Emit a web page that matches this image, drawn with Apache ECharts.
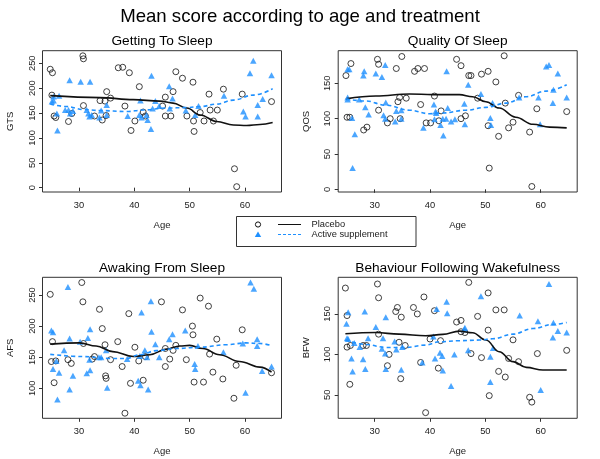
<!DOCTYPE html>
<html><head><meta charset="utf-8">
<script src="https://cdn.jsdelivr.net/npm/echarts@6/dist/echarts.min.js"></script>
<style>html,body{margin:0;padding:0;background:#fff}#c{width:600px;height:459px}</style>
</head><body><div id="c"></div>
<script>
// ---------- DATA ----------
const mainTitle = 'Mean score according to age and treatment';
const panelTitles = ['Getting To Sleep', 'Quality Of Sleep', 'Awaking From Sleep', 'Behaviour Following Wakefulness'];
const yNames = ['GTS', 'QOS', 'AFS', 'BFW'];
const xTicks = [30, 40, 50, 60];
const yTicksGTS = [0, 50, 100, 150, 200, 250];
const yTicksQOS = [0, 50, 100, 150];
const yTicksAFS = [100, 150, 200, 250];
const yTicksBFW = [50, 100, 150];
const legendLabels = ['Placebo', 'Active supplement'];

const gtsPlacebo = [[24.8,238],[25.2,231],[25.1,186],[25.5,144],[25.8,141],[28.1,133],[28.7,149],[30.7,265],[30.8,259],[30.8,165],[32.8,144],[33.8,175],[34.2,136],[34.7,174],[35.0,193],[34.9,145],[35.7,180],[37.1,241],[37.9,242],[38.3,164],[39.1,231],[39.4,115],[40.1,134],[40.9,203],[41.6,152],[42.0,144],[45.6,182],[45.6,144],[45.1,164],[46.6,144],[47.0,193],[47.5,233],[48.7,220],[49.5,144],[50.6,212],[50.7,134],[50.8,113],[51.9,151],[52.6,134],[53.5,188],[53.7,156],[54.3,134],[55.0,156],[56.1,198],[58.1,38],[58.5,2],[59.5,188],[64.8,173]];
const gtsActive = [[25.1,173],[25.4,183],[25.4,175],[26.0,149],[26.1,115],[26.4,185],[27.5,156],[28.1,156],[28.3,216],[28.4,149],[28.9,154],[30.3,213],[31.4,156],[31.7,149],[32.0,213],[31.9,143],[32.3,146],[33.7,141],[34.0,155],[35.0,166],[35.0,146],[38.8,144],[40.9,146],[41.1,175],[41.3,141],[42.2,146],[42.4,136],[43.0,118],[43.1,225],[43.3,159],[43.8,174],[44.5,164],[46.3,204],[46.4,159],[46.9,179],[49.3,155],[51.0,146],[51.6,164],[56.2,185],[59.7,153],[60.1,143],[60.9,230],[61.5,255],[62.3,166],[62.3,143],[63.2,178],[64.8,226]];
const gtsPlaceboFit = [[24.8,185],[33.8,181],[39.8,177],[44.6,174],[47.0,170],[49.5,160],[51.9,146],[54.9,133],[57.9,126],[60.3,125],[62.7,127],[65.0,131]];
const gtsActiveFit = [[24.8,168],[27.8,163],[30.8,157],[33.8,155],[38.6,153],[41.6,156],[45.8,160],[49.5,161],[51.9,163],[54.9,168],[57.9,176],[61.5,186],[65.0,199]];

const qosPlacebo = [[24.8,161],[25.7,178],[25.0,102],[25.5,102],[28.0,84],[28.6,88],[30.5,184],[30.7,177],[30.7,112],[32.3,94],[32.8,100],[33.9,171],[34.2,124],[34.5,130],[34.6,100],[34.9,188],[35.7,129],[37.2,167],[37.8,171],[38.3,120],[39.0,171],[39.3,94],[40.1,94],[40.8,132],[41.6,97],[42.0,111],[44.8,184],[45.6,175],[45.6,100],[46.4,104],[47.0,161],[47.4,161],[48.6,129],[49.3,163],[50.5,167],[50.5,90],[50.7,30],[51.9,152],[52.4,75],[53.4,189],[53.6,122],[54.2,87],[55.0,95],[56.0,133],[58.0,81],[58.4,4],[59.3,114],[64.7,110]];
const qosActive = [[25.1,170],[25.4,170],[25.1,130],[25.1,127],[25.9,101],[26.0,30],[26.4,78],[27.2,127],[28.1,167],[27.95,161],[28.3,116],[28.9,106],[30.2,164],[31.3,159],[31.6,105],[31.9,176],[32.0,123],[31.9,100],[33.7,96],[33.9,111],[34.8,112],[34.8,100],[38.8,87],[40.7,120],[40.8,99],[41.0,110],[41.1,108],[41.9,91],[42.4,76],[42.3,100],[42.9,100],[43.0,167],[43.2,115],[43.8,96],[44.5,99],[46.2,121],[46.3,92],[46.9,148],[49.2,135],[50.9,101],[51.0,91],[51.3,122],[56.1,130],[59.6,130],[59.9,92],[61.0,174],[61.5,176],[62.2,122],[62.3,141],[63.1,164],[64.7,130]];
const qosPlaceboFit = [[24.8,128],[30.2,132],[36.3,135],[40.5,134],[45.3,134],[47.7,131],[50.1,124],[52.5,115],[55.5,102],[58.6,92],[61.6,88],[64.7,87]];
const qosActiveFit = [[24.8,128],[28.4,125],[32.0,119],[36.3,112],[39.9,107],[42.3,108],[46.5,112],[50.1,116],[53.7,122],[57.3,131],[61.0,139],[64.7,148]];

const afsPlacebo = [[24.8,251],[25.2,175],[25.0,143],[25.5,109],[25.8,144],[28.0,146],[28.6,140],[30.5,270],[30.7,239],[30.8,172],[32.4,147],[32.8,151],[33.7,227],[34.2,196],[34.7,170],[34.8,120],[34.9,116],[35.7,146],[37.0,175],[37.8,135],[38.3,60],[39.0,220],[39.3,108],[40.1,166],[40.8,144],[41.6,113],[42.0,151],[44.9,239],[45.6,135],[45.6,164],[46.4,147],[47.0,161],[47.5,169],[48.7,226],[49.4,146],[50.5,200],[50.6,186],[50.8,110],[51.9,245],[52.5,110],[53.4,232],[53.6,155],[54.2,126],[54.9,179],[56.0,115],[58.0,84],[58.4,137],[59.5,194],[64.8,125]];
const afsActive = [[25.0,193],[25.3,190],[25.3,131],[25.9,144],[26.1,82],[26.4,125],[27.3,161],[28.0,263],[28.3,180],[28.3,98],[28.9,120],[30.2,175],[31.4,124],[31.6,181],[31.9,146],[32.0,195],[32.0,129],[33.6,150],[34.0,150],[34.9,161],[35.1,101],[38.7,147],[40.7,112],[41.0,152],[41.1,105],[41.3,222],[41.9,161],[42.3,150],[42.5,98],[43.0,240],[43.1,191],[43.8,171],[44.5,150],[46.3,179],[46.9,187],[49.2,193],[50.9,139],[51.0,131],[51.5,168],[56.1,158],[59.6,172],[60.1,93],[61.0,270],[61.6,260],[62.2,179],[62.2,168],[63.1,128],[64.8,135]];
const afsPlaceboFit = [[24.8,171],[30.1,173],[33.1,168],[36.1,159],[39.8,151],[42.8,154],[45.8,163],[48.2,168],[50.0,169],[52.4,164],[55.4,154],[59.0,143],[62.7,134],[64.8,126]];
const afsActiveFit = [[24.8,154.6],[30.7,151],[35.5,148],[38.6,148],[41.0,154],[44.0,160.5],[47.6,164],[51.8,166],[56.6,170],[60.2,173],[62.7,172],[64.8,168.6]];

const bfwPlacebo = [[24.7,182],[25.0,148],[25.0,109],[25.6,111],[25.5,63],[27.9,111],[28.5,111],[30.5,187],[30.7,170],[30.7,125],[32.6,100],[32.3,86],[33.8,153],[34.1,158],[34.4,115],[34.8,146],[34.7,70],[35.5,111],[37.0,158],[37.7,150],[38.3,90],[38.9,171],[39.2,28],[40.0,119],[40.8,154],[41.5,83],[41.9,117],[44.8,140],[45.6,142],[45.6,128],[46.3,127],[47.0,189],[47.4,101],[48.6,147],[49.3,96],[50.5,176],[50.5,130],[50.7,49],[51.9,155],[52.4,79],[53.4,155],[53.6,72],[54.2,95],[55.0,118],[56.0,91],[58.0,47],[58.4,41],[59.4,101],[64.7,105]];
const bfwActive = [[24.9,138],[25.0,120],[25.2,152],[25.2,119],[25.8,95],[26.0,79],[26.3,114],[27.3,109],[27.9,94],[28.2,153],[28.3,82],[28.8,120],[30.2,134],[31.3,107],[31.5,120],[31.9,101],[32.0,146],[32.0,82],[33.6,116],[33.9,106],[34.8,81],[35.0,109],[38.6,90],[40.6,122],[40.9,95],[41.2,156],[41.8,102],[42.2,98],[42.3,80],[43.0,165],[43.1,151],[43.8,61],[44.4,100],[46.2,131],[46.3,133],[46.9,105],[49.2,172],[50.9,97],[50.9,66],[51.4,108],[56.2,148],[59.5,141],[60.0,56],[61.0,196],[61.5,187],[62.2,121],[62.3,139],[63.1,129],[64.7,127]];
const bfwPlaceboFit = [[24.7,125.5],[30.2,127],[34.4,125],[39.2,123],[42.3,124.7],[45.3,128.8],[47.7,126.7],[50.1,117.7],[52.5,103.3],[55.0,91],[57.4,84],[60.4,80.7],[64.7,80.7]];
const bfwActiveFit = [[24.7,117.7],[28.4,112.3],[32.0,108.6],[35.6,108.6],[39.2,111.5],[41.7,115.6],[45.3,116.9],[48.9,117.7],[51.3,119.3],[55.0,125],[58.6,132],[62.2,137],[64.7,139.5]];

// ---------- LAYOUT / STYLE ----------
const FONT = '"Liberation Sans", Arial, sans-serif';
const BLUE = '#1E90FF';
const TXT = '#1a1a1a';
const grids = [
  {left: 42.5, top: 50.7, width: 239, height: 141.3},
  {left: 338.2, top: 50.7, width: 239, height: 141.3},
  {left: 42.5, top: 277.3, width: 239, height: 141},
  {left: 338.2, top: 277.3, width: 239, height: 141}
];
const yRanges = [[-8.7, 275.3], [-3.8, 196.2], [51.8, 278.4], [21, 195.3]];
const yTicks = [yTicksGTS, yTicksQOS, yTicksAFS, yTicksBFW];
const placebo = [gtsPlacebo, qosPlacebo, afsPlacebo, bfwPlacebo];
const active = [gtsActive, qosActive, afsActive, bfwActive];
const placeboFit = [gtsPlaceboFit, qosPlaceboFit, afsPlaceboFit, bfwPlaceboFit];
const activeFit = [gtsActiveFit, qosActiveFit, afsActiveFit, bfwActiveFit];

const chart = echarts.init(document.getElementById('c'), null, {renderer: 'canvas'});

const xAxis = grids.map((g, i) => ({
  gridIndex: i, type: 'value', min: 23.4, max: 66.6,
  name: 'Age', nameLocation: 'middle', nameGap: 28,
  nameTextStyle: {fontSize: 9.5, color: TXT, fontFamily: FONT},
  axisLine: {show: false}, splitLine: {show: false},
  axisTick: {show: true, length: 3.5, lineStyle: {color: '#333', width: 1}, customValues: xTicks},
  axisLabel: {customValues: xTicks, fontSize: 9.3, margin: 9, color: TXT, fontFamily: FONT}
}));
const yAxis = grids.map((g, i) => ({
  gridIndex: i, type: 'value', min: yRanges[i][0], max: yRanges[i][1],
  name: yNames[i], nameLocation: 'middle', nameGap: 27, nameRotate: 90,
  nameTextStyle: {fontSize: 9.5, color: TXT, fontFamily: FONT},
  axisLine: {show: false}, splitLine: {show: false},
  axisTick: {show: true, length: 3.5, lineStyle: {color: '#333', width: 1}, customValues: yTicks[i]},
  axisLabel: {customValues: yTicks[i], rotate: 90, fontSize: 9.3, margin: 6, color: TXT, fontFamily: FONT}
}));

const series = [];
for (let i = 0; i < 4; i++) {
  series.push({type: 'scatter', xAxisIndex: i, yAxisIndex: i, data: placebo[i], symbol: 'circle', symbolSize: 6,
    itemStyle: {color: 'rgba(255,255,255,0)', borderColor: '#111', borderWidth: 1}, silent: true, z: 2});
  series.push({type: 'scatter', xAxisIndex: i, yAxisIndex: i, data: active[i], symbol: 'triangle', symbolSize: [6.5, 6],
    itemStyle: {color: BLUE}, silent: true, z: 2});
  series.push({type: 'line', xAxisIndex: i, yAxisIndex: i, data: placeboFit[i], smooth: 0.4, smoothMonotone: 'x', showSymbol: false,
    lineStyle: {color: '#111', width: 1.6, type: 'solid'}, silent: true, z: 3});
  series.push({type: 'line', xAxisIndex: i, yAxisIndex: i, data: activeFit[i], smooth: 0.4, smoothMonotone: 'x', showSymbol: false,
    lineStyle: {color: BLUE, width: 1.6, type: [4, 3]}, silent: true, z: 3});
}

const titles = [{text: mainTitle, left: 300, top: 6, textAlign: 'center', padding: 0,
  textStyle: {fontSize: 18.6, fontWeight: 'normal', color: '#000', fontFamily: FONT, lineHeight: 22}}];
grids.forEach((g, i) => titles.push({text: panelTitles[i], left: g.left + g.width / 2, top: (i < 2 ? 41.7 : 268.3) - 8,
  textAlign: 'center', padding: 0,
  textStyle: {fontSize: 13.7, fontWeight: 'normal', color: '#000', fontFamily: FONT, lineHeight: 16}}));

const legendGraphic = [
  {type: 'rect', shape: {x: 236.5, y: 216.5, width: 179.5, height: 30}, style: {fill: 'none', stroke: '#333', lineWidth: 1}},
  {type: 'circle', shape: {cx: 258, cy: 224.5, r: 2.6}, style: {fill: 'none', stroke: '#111', lineWidth: 1}},
  {type: 'polygon', shape: {points: [[254.8, 237], [261.2, 237], [258, 231.5]]}, style: {fill: BLUE}},
  {type: 'line', shape: {x1: 278, y1: 224.5, x2: 301, y2: 224.5}, style: {stroke: '#111', lineWidth: 1}},
  {type: 'line', shape: {x1: 278, y1: 234.5, x2: 301, y2: 234.5}, style: {stroke: BLUE, lineWidth: 1, lineDash: [3, 2]}},
  {type: 'text', x: 311.5, y: 224.5, style: {text: legendLabels[0], fill: TXT, font: '9.3px ' + FONT, textVerticalAlign: 'middle'}},
  {type: 'text', x: 311.5, y: 234.8, style: {text: legendLabels[1], fill: TXT, font: '9.3px ' + FONT, textVerticalAlign: 'middle'}}
];

chart.setOption({
  animation: false,
  backgroundColor: '#fff',
  title: titles,
  grid: grids.map(g => Object.assign({show: true, borderColor: '#333', borderWidth: 1, backgroundColor: 'transparent', containLabel: false}, g)),
  xAxis: xAxis,
  yAxis: yAxis,
  series: series,
  graphic: legendGraphic
});
</script></body></html>
